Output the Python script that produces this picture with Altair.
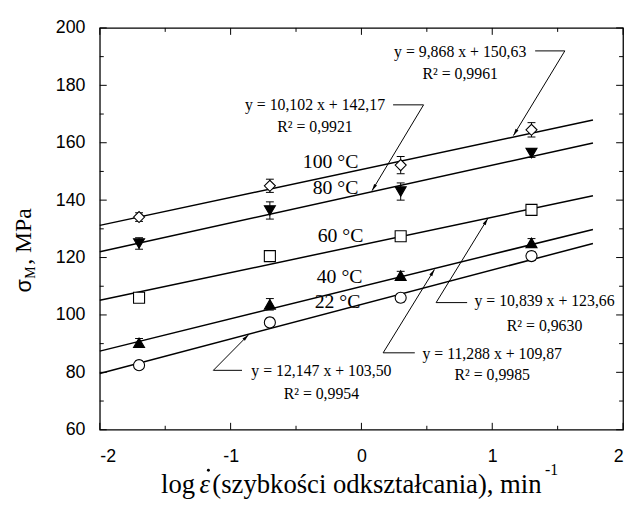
import math
import altair as alt
import pandas as pd

# ---------------- data ----------------
temps = ["100", "80", "60", "40", "22"]
rate_x = [-1.7, -0.7, 0.3, 1.3]

sig_100 = [134.1, 145.0, 152.2, 164.5]
err_100 = [1.5, 2.3, 3.0, 2.5]
sig_80 = [124.9, 136.4, 143.0, 156.4]
err_80 = [2.0, 3.0, 3.0, 1.5]
sig_60 = [106.0, 120.5, 127.4, 136.6]
err_60 = [1.0, 1.0, 1.5, 1.5]
sig_40 = [90.3, 103.7, 113.7, 125.1]
err_40 = [1.5, 2.0, 1.5, 1.5]
sig_22 = [82.5, 97.4, 106.0, 120.5]
err_22 = [1.5, 1.5, 1.5, 1.5]

# fitted lines (end points as drawn)
fit_x0 = [-2.0, -2.0, -2.0, -2.0, -2.0]
fit_x1 = [1.77, 1.77, 1.77, 1.77, 1.77]
fit_y0 = [131.2, 122.0, 105.1, 87.4, 79.6]
fit_y1 = [167.9, 159.9, 141.5, 129.8, 124.9]

label_text = ["100 °C", "80 °C", "60 °C", "40 °C", "22 °C"]
label_x = [-0.023, -0.023, 0.015, 0.008, -0.008]
label_y = [151.2, 142.2, 125.4, 111.3, 102.3]

eq_text = ["y = 9,868 x + 150,63", "y = 10,102 x + 142,17", "y = 10,839 x + 123,66",
           "y = 11,288 x + 109,87", "y = 12,147 x + 103,50"]
r2_text = ["R² = 0,9961", "R² = 0,9921", "R² = 0,9630", "R² = 0,9985", "R² = 0,9954"]
eq_x = [0.755, -0.355, 1.40, 1.0, -0.306]
eq_y = [189.7, 171.5, 103.0, 84.8, 78.7]
r2_y = [182.1, 163.9, 94.5, 77.2, 70.7]

lead_ax = [1.328, 0.242, 0.808, 0.408, -0.913]
lead_bx = [1.555, 0.475, 0.571, 0.166, -1.132]
lead_y = [192.0, 173.2, 104.3, 86.8, 80.7]
tip_x = [1.162, 0.081, 0.966, 0.558, -0.863]
tip_y = [162.5, 143.3, 133.6, 115.8, 93.1]

x_major = [-2, -1, 0, 1, 2]
x_minor = [-1.5, -0.5, 0.5, 1.5]
y_major = [60, 80, 100, 120, 140, 160, 180, 200]
y_minor = [70, 90, 110, 130, 150, 170, 190]

shapes = ["diamond", "triangle-down", "square", "triangle-up", "circle"]
fills = ["white", "black", "white", "black", "white"]
sizes = [125, 125, 81, 125, 90]

SERIF = "Liberation Serif, serif"
SANS = "Liberation Sans, Arial, sans-serif"

# ---------------- layout ----------------
W, H = 530, 407
X0, X1, Y0, Y1 = -2, 2, 60, 200

xs = alt.Scale(domain=[X0, X1], nice=False, zero=False)
ys = alt.Scale(domain=[Y0, Y1], nice=False, zero=False)
xaxis = alt.Axis(values=x_major, labelExpr="'' + datum.value", ticks=False, tickSize=0,
                 domain=False, grid=False, labelFont=SANS, labelFontSize=18,
                 labelColor="black", labelPadding=18)
yaxis = alt.Axis(values=y_major, labelExpr="'' + datum.value", ticks=False, tickSize=0,
                 domain=False, grid=False, labelFont=SANS, labelFontSize=18,
                 labelColor="black", labelPadding=15)


def X(f):
    return alt.X(f, type="quantitative", scale=xs, axis=xaxis, title=None)


def Y(f):
    return alt.Y(f, type="quantitative", scale=ys, axis=yaxis, title=None)


# ---------------- tables ----------------
sig_all = [sig_100, sig_80, sig_60, sig_40, sig_22]
err_all = [err_100, err_80, err_60, err_40, err_22]
rows = []
for t, s, e in zip(temps, sig_all, err_all):
    for xv, yv, ev in zip(rate_x, s, e):
        rows.append({"series": t, "x": xv, "y": yv, "lo": yv - ev, "hi": yv + ev})
pts = pd.DataFrame(rows)

fit_df = pd.DataFrame({"series": temps, "x0": fit_x0, "x1": fit_x1, "y0": fit_y0, "y1": fit_y1})
lab_df = pd.DataFrame({"t": label_text, "x": label_x, "y": label_y})
eq_df = pd.DataFrame({"t": eq_text, "x": eq_x, "y": eq_y})
r2_df = pd.DataFrame({"t": r2_text, "x": eq_x, "y": r2_y})

sx = W / (X1 - X0)
sy = H / (Y1 - Y0)
angles = []
for bx, by, tx, ty in zip(lead_bx, lead_y, tip_x, tip_y):
    dx = (tx - bx) * sx
    dy = -(ty - by) * sy
    angles.append(math.degrees(math.atan2(dx, -dy)) % 360)
lead_df = pd.DataFrame({"ax": lead_ax, "bx": lead_bx, "y": lead_y, "tx": tip_x, "ty": tip_y,
                        "ang": angles})

# ---------------- layers ----------------
fit = alt.Chart(fit_df).mark_rule(color="black", strokeWidth=1.5).encode(
    x=X("x0"), x2="x1", y=Y("y0"), y2="y1")

err = alt.Chart(pts).mark_rule(color="black", strokeWidth=1).encode(
    x=X("x"), y=Y("lo"), y2="hi")
cap_lo = alt.Chart(pts).mark_tick(orient="horizontal", size=8, thickness=1, color="black",
                                  opacity=1).encode(x=X("x"), y=Y("lo"))
cap_hi = alt.Chart(pts).mark_tick(orient="horizontal", size=8, thickness=1, color="black",
                                  opacity=1).encode(x=X("x"), y=Y("hi"))

points = alt.Chart(pts).mark_point(filled=True, opacity=1, stroke="black",
                                   strokeWidth=1.1).encode(
    x=X("x"), y=Y("y"),
    shape=alt.Shape("series:N", scale=alt.Scale(domain=temps, range=shapes), legend=None),
    fill=alt.Fill("series:N", scale=alt.Scale(domain=temps, range=fills), legend=None),
    size=alt.Size("series:N", scale=alt.Scale(domain=temps, range=sizes), legend=None),
)

tick_layers = []
for vals, ln in ((x_major, 7), (x_minor, 4)):
    d = pd.DataFrame({"v": vals})
    tick_layers.append(alt.Chart(d).mark_rule(color="black", strokeWidth=1).encode(
        x=X("v"), y=alt.value(H), y2=alt.value(H - ln)))
    tick_layers.append(alt.Chart(d).mark_rule(color="black", strokeWidth=1).encode(
        x=X("v"), y=alt.value(0), y2=alt.value(ln)))
for vals, ln in ((y_major, 7), (y_minor, 4)):
    d = pd.DataFrame({"v": vals})
    tick_layers.append(alt.Chart(d).mark_rule(color="black", strokeWidth=1).encode(
        y=Y("v"), x=alt.value(0), x2=alt.value(ln)))
    tick_layers.append(alt.Chart(d).mark_rule(color="black", strokeWidth=1).encode(
        y=Y("v"), x=alt.value(W), x2=alt.value(W - ln)))

labels = alt.Chart(lab_df).mark_text(font=SERIF, fontSize=20, align="right",
                                     baseline="alphabetic", color="black").encode(
    x=X("x"), y=Y("y"), text="t:N")
eqs = alt.Chart(eq_df).mark_text(font=SERIF, fontSize=16, align="center",
                                 baseline="alphabetic", color="black").encode(
    x=X("x"), y=Y("y"), text="t:N")
r2s = alt.Chart(r2_df).mark_text(font=SERIF, fontSize=16, align="center",
                                 baseline="alphabetic", color="black").encode(
    x=X("x"), y=Y("y"), text="t:N")

lead_h = alt.Chart(lead_df).mark_rule(color="black", strokeWidth=1).encode(
    x=X("ax"), x2="bx", y=Y("y"), y2="y")
lead_d = alt.Chart(lead_df).mark_rule(color="black", strokeWidth=1).encode(
    x=X("bx"), x2="tx", y=Y("y"), y2="ty")
heads = alt.Chart(lead_df).mark_point(shape="M0,0L0.24,1L-0.24,1Z", filled=True, fill="black",
                                      opacity=1, strokeWidth=0, size=196).encode(
    x=X("tx"), y=Y("ty"), angle=alt.Angle("ang:Q", scale=None))


# axis titles (real text)
def txt(s, x, y, font, size, **kw):
    return alt.Chart(pd.DataFrame({"t": [s]})).mark_text(
        font=font, fontSize=size, color="black", baseline="alphabetic", **kw).encode(
        text="t:N", x=alt.value(x), y=alt.value(y))


titles = [
    txt("σ", -70, 268, SANS, 22, align="left", angle=270),
    txt("M", -66, 254, SERIF, 14, align="left", angle=270),
    txt(", MPa", -70, 240, SERIF, 24, align="left", angle=270),
    txt("log", 62, 471, SERIF, 27, align="left"),
    txt("ε", 101, 471, SERIF, 27, align="left", fontStyle="italic"),
    txt("(szybkości odkształcania), min", 114, 471, SERIF, 27, align="left"),
    txt("-1", 451, 453, SERIF, 16, align="left"),
]
# the dot over epsilon (time derivative)
eps_dot = alt.Chart(pd.DataFrame({"d": [0]})).mark_point(
    shape="circle", filled=True, fill="black", opacity=1, strokeWidth=0, size=9).encode(
    x=alt.value(110), y=alt.value(448))

chart = alt.layer(
    fit, err, cap_lo, cap_hi, *tick_layers, lead_h, lead_d, heads, points,
    labels, eqs, r2s, *titles, eps_dot
).properties(
    width=W, height=H,
    padding={"left": 93, "top": 17, "right": 4, "bottom": 70},
    autosize=alt.AutoSizeParams(type="none"),
).configure_view(stroke="black", strokeWidth=1.3)

chart.save("out.html", embed_options={"renderer": "svg", "actions": False})
